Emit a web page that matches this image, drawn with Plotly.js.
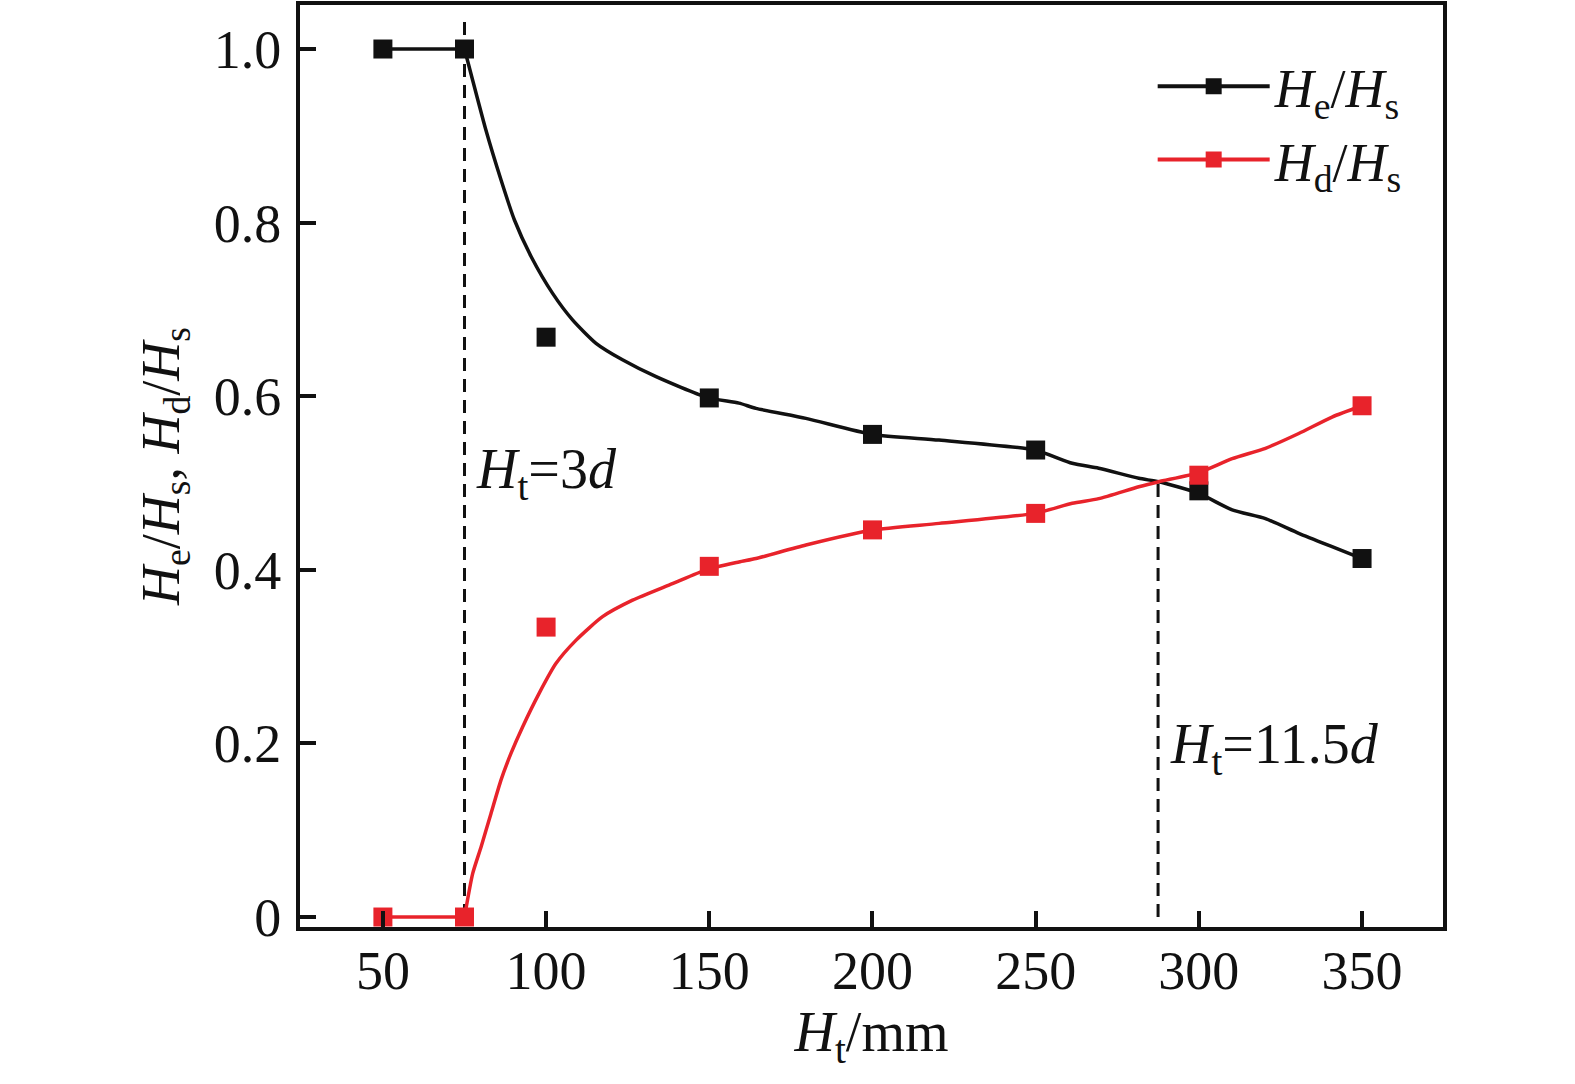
<!DOCTYPE html>
<html>
<head>
<meta charset="utf-8">
<script src="https://cdn.plot.ly/plotly-3.0.1.min.js"></script>
<style>
  html, body { margin: 0; padding: 0; background: #fff; }
  #chart { width: 1575px; height: 1084px; }
</style>
</head>
<body>
<div id="chart"></div>
<script>
// measured points
const htX = [50, 75, 100, 150, 200, 250, 300, 350];
const heRatio = [1.0, 1.0, 0.668, 0.598, 0.556, 0.538, 0.491, 0.413];
const hdRatio = [0, 0, 0.334, 0.404, 0.446, 0.465, 0.509, 0.589];

// fitted curves (first segment 50-75 is flat)
const heCurveX = [50, 75, 77.5, 81.6, 86.2, 90.3, 95.4, 102, 108.1, 115.3, 123.4, 133.7, 149, 159.1, 164.3, 179.6, 200, 220.4, 249.7, 261.2, 269.3, 281.6, 287.7, 300, 310.2, 320.4, 330.6, 340.8, 350];
const heCurveY = [1.0, 1.0, 0.964, 0.906, 0.849, 0.803, 0.761, 0.7185, 0.688, 0.661, 0.642, 0.6225, 0.599, 0.592, 0.586, 0.5745, 0.556, 0.5495, 0.538, 0.5227, 0.517, 0.5054, 0.5015, 0.488, 0.469, 0.459, 0.442, 0.4266, 0.413];
const hdCurveX = [50, 75, 77.5, 80.1, 83.1, 86.2, 89.3, 92.8, 97.9, 103, 109.2, 117.3, 126.5, 138.7, 149, 159.1, 164.3, 179.6, 200, 220.4, 249.7, 261.2, 269.3, 281.6, 287.7, 300, 310.2, 320.4, 330.6, 340.8, 350];
const hdCurveY = [0, 0, 0.05, 0.081, 0.119, 0.158, 0.189, 0.219, 0.258, 0.292, 0.319, 0.346, 0.365, 0.384, 0.400, 0.409, 0.413, 0.4286, 0.4459, 0.4535, 0.465, 0.4766, 0.482, 0.4957, 0.5015, 0.512, 0.528, 0.540, 0.557, 0.576, 0.589];

// reference lines Ht = 3d and Ht = 11.5d (d = 25 mm)
const refLineX = [75, 287.5];
const refLineTop = [1.037, 0.5015];

const xTicks = [50, 100, 150, 200, 250, 300, 350];
const yTicks = [0, 0.2, 0.4, 0.6, 0.8, 1.0];
const yTickText = ['0', '0.2', '0.4', '0.6', '0.8', '1.0'];

const BLACK = '#111111';
const RED = '#e8232b';
const FONT = '"Liberation Serif", "Times New Roman", serif';

const heName = '<i>H</i><sub>e</sub>/<i>H</i><sub>s</sub>';
const hdName = '<i>H</i><sub>d</sub>/<i>H</i><sub>s</sub>';

const traces = [];

refLineX.forEach((x, i) => {
    traces.push({
        x: [x, x],
        y: [0, refLineTop[i]],
        mode: 'lines',
        line: { color: BLACK, width: 3, dash: '13px,8px' },
        showlegend: false,
        hoverinfo: 'skip'
    });
});

// flat part drawn straight, the rest smoothed
function curveTraces(xs, ys, color) {
    return [
        {
            x: xs.slice(0, 2), y: ys.slice(0, 2),
            mode: 'lines',
            line: { color: color, width: 3.5 },
            showlegend: false
        },
        {
            x: xs.slice(1), y: ys.slice(1),
            mode: 'lines',
            line: { color: color, width: 3.5, shape: 'spline', smoothing: 0.6 },
            showlegend: false
        }
    ];
}

traces.push(...curveTraces(heCurveX, heCurveY, BLACK));
traces.push({
    x: htX, y: heRatio,
    mode: 'markers',
    marker: { symbol: 'square', size: 19, color: BLACK },
    showlegend: false
});
traces.push(...curveTraces(hdCurveX, hdCurveY, RED));
traces.push({
    x: htX, y: hdRatio,
    mode: 'markers',
    marker: { symbol: 'square', size: 19, color: RED },
    showlegend: false
});

// legend entries only
traces.push({
    x: [null], y: [null], name: heName,
    mode: 'lines+markers',
    line: { color: BLACK, width: 4 },
    marker: { symbol: 'square', size: 19, color: BLACK }
});
traces.push({
    x: [null], y: [null], name: hdName,
    mode: 'lines+markers',
    line: { color: RED, width: 4 },
    marker: { symbol: 'square', size: 19, color: RED }
});

const axisCommon = {
    showgrid: false,
    zeroline: false,
    showline: true,
    linecolor: BLACK,
    linewidth: 4,
    mirror: true,
    ticks: 'inside',
    ticklen: 16,
    tickwidth: 4,
    tickcolor: BLACK,
    tickfont: { family: FONT, size: 54, color: BLACK }
};

const layout = {
    width: 1575,
    height: 1084,
    paper_bgcolor: '#fff',
    plot_bgcolor: '#fff',
    font: { family: FONT, color: BLACK },
    margin: { l: 300, r: 132, t: 5, b: 157 },
    showlegend: true,
    legend: {
        x: 0.746, y: 0.957, xanchor: 'left', yanchor: 'top',
        bgcolor: 'rgba(0,0,0,0)',
        font: { family: FONT, size: 54, color: BLACK },
        itemwidth: 112,
        tracegroupgap: 0
    },
    xaxis: {
        ...axisCommon,
        range: [24.6, 374.8],
        tickvals: xTicks,
        ticklabelstandoff: -7,
        title: { text: '<i>H</i><sub>t</sub>/mm', font: { family: FONT, size: 56, color: BLACK }, standoff: 12 }
    },
    yaxis: {
        ...axisCommon,
        range: [-0.0115, 1.0507],
        tickvals: yTicks,
        ticktext: yTickText,
        ticklabelstandoff: 4,
        title: { text: '<i>H</i><sub>e</sub>/<i>H</i><sub>s</sub>, <i>H</i><sub>d</sub>/<i>H</i><sub>s</sub>', font: { family: FONT, size: 54, color: BLACK }, standoff: 18 }
    },
    annotations: [
        {
            x: 78, y: 0.512, xref: 'x', yref: 'y', xanchor: 'left', yanchor: 'middle',
            text: '<i>H</i><sub>t</sub>=3<i>d</i>', showarrow: false,
            font: { family: FONT, size: 56, color: BLACK }
        },
        {
            x: 290.5, y: 0.195, xref: 'x', yref: 'y', xanchor: 'left', yanchor: 'middle',
            text: '<i>H</i><sub>t</sub>=11.5<i>d</i>', showarrow: false,
            font: { family: FONT, size: 56, color: BLACK }
        }
    ]
};

Plotly.newPlot('chart', traces, layout, { displayModeBar: false, staticPlot: true });
</script>
</body>
</html>
